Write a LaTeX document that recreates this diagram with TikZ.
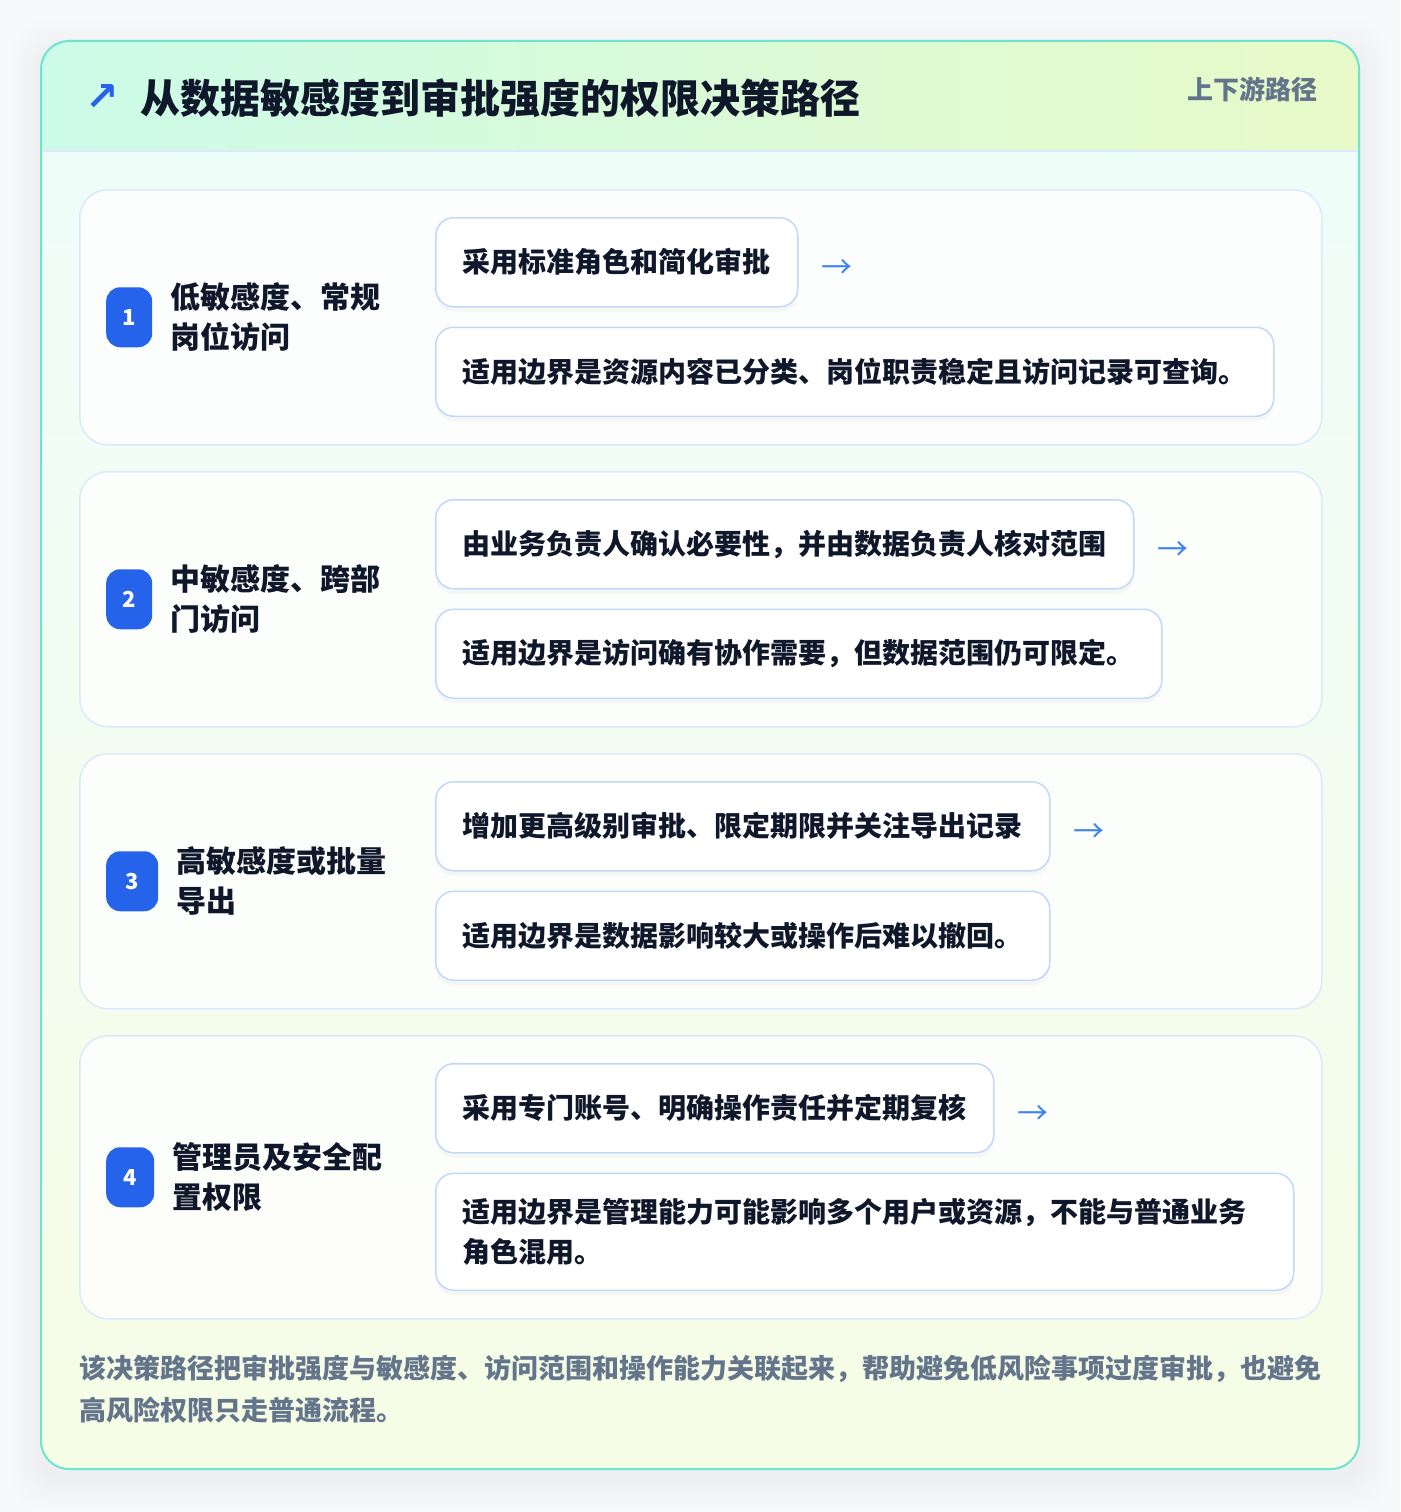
\documentclass[tikz,border=0pt]{standalone}
\usepackage{fontspec}
\setmainfont{Noto Sans CJK SC}
\newfontfamily\symfont{DejaVu Sans}
\usetikzlibrary{positioning, shadows}

\definecolor{ink}{HTML}{0F172A}
\definecolor{slate}{HTML}{64748B}
\definecolor{badgeblue}{HTML}{2563EB}
\definecolor{arrowblue}{HTML}{3B82F6}
\definecolor{tealline}{HTML}{6DE4CF}
\definecolor{headl}{HTML}{CCFBE8}
\definecolor{headr}{HTML}{E8FAC8}
\definecolor{bodyt}{HTML}{EFFDF9}
\definecolor{bodyb}{HTML}{F6FDE6}
\definecolor{rowline}{HTML}{DCE8FB}
\definecolor{boxline}{HTML}{C2D8F8}
\definecolor{pagebg}{HTML}{F8F9FA}

\tikzset{
	rowcard/.style={draw=rowline, line width=1.5pt, fill=white, fill opacity=0.8, draw opacity=1, rounded corners=28pt, minimum width=1242pt, anchor=north west},
	badge/.style={fill=badgeblue, text=white, rounded corners=14pt, minimum width=46pt, minimum height=60pt, inner sep=0pt, font=\bfseries\fontsize{22}{22}\selectfont},
	rowlabel/.style={align=left, text=ink, inner sep=0pt, font=\bfseries\fontsize{30}{40}\selectfont},
	stepbox/.style={draw=boxline, line width=1.5pt, fill=white, rounded corners=18pt, inner xsep=27pt, minimum height=89pt, anchor=north west, align=left, text=ink, font=\bfseries\fontsize{28}{40}\selectfont, drop shadow={shadow xshift=0pt, shadow yshift=-5pt, opacity=0.05}},
	nextarrow/.style={text=arrowblue, inner sep=0pt, yshift=-7pt, font=\fontsize{31}{31}\selectfont},
}

\begin{document}
\begin{tikzpicture}[x=1pt, y=-1pt]
	\useasboundingbox (0,0) rectangle (1400,1512);
	\fill[pagebg] (0,0) rectangle (1400,1512);
	\foreach \s in {3,6,...,30}
		\fill[black, opacity=0.005, rounded corners=30pt] (41-\s,41-\s+10) rectangle (1359+\s,1469+\s+10);

	\begin{scope}
		\clip[rounded corners=28pt] (41,41) rectangle (1359,1469);
		\shade[top color=bodyt, bottom color=bodyb] (41,151) rectangle (1359,1469);
		\shade[left color=headl, right color=headr] (41,41) rectangle (1359,151);
	\end{scope}
	\draw[rowline, line width=1.5pt] (41,151) -- (1359,151);
	\draw[tealline, line width=2pt, rounded corners=28pt] (41,41) rectangle (1359,1469);

	\node (icon) [text=badgeblue, inner sep=0pt, font=\symfont\bfseries\fontsize{40}{40}\selectfont] at (102,98) {↗};
	\node (title) [anchor=west, inner sep=0pt, text=ink, font=\bfseries\fontsize{40}{40}\selectfont] at (140,98) {从数据敏感度到审批强度的权限决策路径};
	\node (tag) [anchor=east, inner sep=0pt, text=slate, font=\bfseries\fontsize{26}{26}\selectfont] at (1318,89) {上下游路径};

	\node (card1) [rowcard, minimum height=255pt] at (79,189) {};
	\node (n1) [badge, right=27pt of card1.west] {1};
	\node (t1) [rowlabel, right=18pt of n1] {低敏感度、常规\\岗位访问};
	\node (a1) [stepbox] at ([xshift=356pt, yshift=-28pt]card1.north west) {采用标准角色和简化审批};
	\node (b1) [stepbox, below=19pt of a1.south west, anchor=north west] {适用边界是资源内容已分类、岗位职责稳定且访问记录可查询。};
	\node (x1) [nextarrow, right=23pt of a1] {→};

	\node (card2) [rowcard, minimum height=255pt] at (79,471) {};
	\node (n2) [badge, right=27pt of card2.west] {2};
	\node (t2) [rowlabel, right=18pt of n2] {中敏感度、跨部\\门访问};
	\node (a2) [stepbox] at ([xshift=356pt, yshift=-28pt]card2.north west) {由业务负责人确认必要性，并由数据负责人核对范围};
	\node (b2) [stepbox, below=19pt of a2.south west, anchor=north west] {适用边界是访问确有协作需要，但数据范围仍可限定。};
	\node (x2) [nextarrow, right=23pt of a2] {→};

	\node (card3) [rowcard, minimum height=255pt] at (79,753) {};
	\node (n3) [badge, minimum width=52pt, right=27pt of card3.west] {3};
	\node (t3) [rowlabel, right=18pt of n3] {高敏感度或批量\\导出};
	\node (a3) [stepbox] at ([xshift=356pt, yshift=-28pt]card3.north west) {增加更高级别审批、限定期限并关注导出记录};
	\node (b3) [stepbox, below=19pt of a3.south west, anchor=north west] {适用边界是数据影响较大或操作后难以撤回。};
	\node (x3) [nextarrow, right=23pt of a3] {→};

	\node (card4) [rowcard, minimum height=283pt] at (79,1035) {};
	\node (n4) [badge, minimum width=48pt, right=27pt of card4.west] {4};
	\node (t4) [rowlabel, right=18pt of n4] {管理员及安全配\\置权限};
	\node (a4) [stepbox] at ([xshift=356pt, yshift=-28pt]card4.north west) {采用专门账号、明确操作责任并定期复核};
	\node (b4) [stepbox, text width=804pt, minimum height=117pt, below=19pt of a4.south west, anchor=north west] {适用边界是管理能力可能影响多个用户或资源，不能与普通业务\\角色混用。};
	\node (x4) [nextarrow, right=23pt of a4] {→};

	\node (note) [anchor=north west, inner sep=0pt, text width=1250pt, align=left, text=slate, font=\bfseries\fontsize{27}{42}\selectfont] at (79,1355) {该决策路径把审批强度与敏感度、访问范围和操作能力关联起来，帮助避免低风险事项过度审批，也避免\\高风险权限只走普通流程。};
\end{tikzpicture}
\end{document}
